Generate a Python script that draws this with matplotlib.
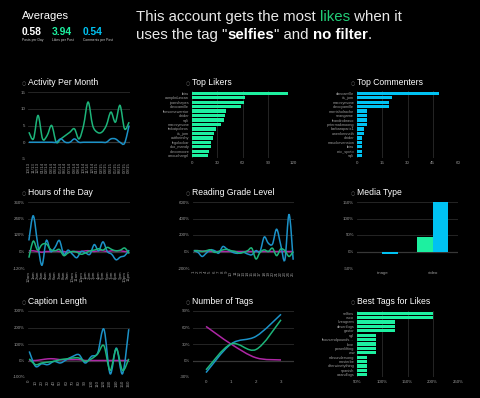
import matplotlib
matplotlib.use('Agg')
import matplotlib.pyplot as plt
import numpy as np
from matplotlib.path import Path
from matplotlib.patches import PathPatch

plt.rcParams['font.family'] = ['Liberation Sans', 'DejaVu Sans']

# ---- data ----
months = ['10/13', '11/13', '12/13', '01/14', '02/14', '03/14', '04/14', '05/14',
          '06/14', '07/14', '08/14', '09/14', '10/14', '11/14', '12/14', '01/15',
          '02/15', '03/15', '04/15', '05/15', '06/15', '07/15', '08/15']
month_likes = [3, 1, 8, 1, 2, 5, 0, 1, 2, 3, 4, 1, 5, 12, 5, 3, 3, 5, 9, 6, 11, 4, 6]
month_comments = [0, 0, 0, 0, 0, 0, 0, 1, 0, 0, 1, 0, 0, 0, 0, 0, 0, 0, 1, 1, 0, -0.3, 5]

likers = ['lbiru', 'campbduncan', 'joanshapes', 'alexcamille', 'thesomewarrior', 'alrider',
          'sqli', 'marcsymone', 'tinkatpobros', 'its_jom', 'cuttheirshy', 'legolockar',
          'ako_mandy', 'alexxmoore', 'amouchargrl']
liker_counts = [114, 63, 62, 58, 40, 39, 38, 34, 28, 26, 25, 23, 22, 20, 19]

commenters = ['dancamille', 'its_jom', 'marcsymone', 'alexcyamille', 'morrisholroche',
              'seangame', 'leandrobravo', 'petermakmoong', 'barbaraparis1', 'owenkenneth',
              'alrider', 'mauckevenston', 'lbiru', 'eric_spoto', 'sqli']
commenter_counts = [49, 21, 19, 19, 6, 6, 6, 6, 4, 4, 3, 3, 3, 3, 3]

hours = ['12am'] + ['%dam' % h for h in range(1, 12)] + ['12pm'] + ['%dpm' % h for h in range(1, 12)]
hour_comments = [80, 260, 60, -100, 80, 0, 30, 80, -20, 10, -20, -45,
                 0, -10, -20, 50, 5, 70, 0, -20, -60, -40, -30, 10]
hour_likes = [-45, 75, 10, 50, 55, 15, 5, 15, -30, -10, 0, -5,
              -20, -10, 5, 10, 20, 10, 30, 15, 5, 10, 25, -15]
hour_posts = [5, 5, 0, -5, 0, 0, 5, 0, 0, -5, 0, 0,
              0, 5, 5, 0, 5, 5, 0, 5, 5, 5, 0, 0]

grades = [str(g) for g in range(1, 26)]
grade_comments = [10, -10, -60, -20, 20, 10, -20, 60, 30, 0, -20, -20, -10, -30, -40,
                  10, 0, 175, 100, 90, 270, 80, -100, 450, -100]
grade_likes = [10, 10, 0, 10, 20, -10, 0, 20, 25, 10, 0, -20, -10, 10, 40,
               -90, -10, 20, 0, 40, -50, 30, 10, -60, 0]
grade_posts = [10, 10, 5, 5, 0, 0, 0, 0, 0, 0, 0, 0, 0, 0, 0,
               0, 0, 0, 0, 0, 0, 0, 0, 0, 0]

media = ['image', 'video']
media_likes = [-2, 44]
media_comments = [-7, 150]

caption_len = [str(c) for c in range(0, 170, 10)]
caption_comments = [55, -35, -20, -25, -5, -15, 5, 25, 35, -15, 25, 45, 190, -80, 75, -80, 190]
caption_likes = [10, -25, -15, -10, -5, 5, 10, 15, 15, -5, 10, 40, 90, -60, 70, -60, 10]
caption_posts = [0, 0, 5, 10, 10, 5, 5, 5, 5, 0, 0, 0, 0, 0, 0, 0, 0]

ntags = ['0', '1', '2', '3']
ntags_comments = [-22, 30, 44, 84]
ntags_likes = [-17, 30, 20, 74]
ntags_posts = [62, 30, 5, 1]

tags = ['selfies', 'vsco', 'liveagram', 'desertlogs', 'gastor', 'ngl', 'thousandpounds...',
        'love', 'powerlifting', 'ww', 'mbsundersong', 'mosterbe', 'afterwinetything',
        'spanish', 'aaandlogs']
tag_lift = [200, 200, 125, 125, 125, 88, 88, 88, 88, 88, 69, 69, 69, 69, 69]

# ---- style ----
GREEN = '#1df0a0'
BLUE = '#00c2f2'
LGREEN = '#1db47a'
LBLUE = '#1c92c8'
MAGENTA = '#ae27a5'
GRID = '#2b2b2b'
ZERO = '#777777'
TICK = '#9a9a9a'

W, H = 480, 398
fig = plt.figure(figsize=(4.8, 3.98), dpi=100, facecolor='black')


def box(x0, y0, x1, y1):
    return fig.add_axes([x0 / W, 1 - y1 / H, (x1 - x0) / W, (y1 - y0) / H])


def base(ax):
    ax.set_facecolor('black')
    for s in ax.spines.values():
        s.set_visible(False)
    ax.tick_params(colors=TICK, labelsize=3.2, length=0, pad=2)


def spline(ax, y, color):
    x = np.arange(len(y), dtype=float)
    y = np.asarray(y, dtype=float)
    px = np.concatenate([[x[0]], x, [x[-1]]])
    py = np.concatenate([[y[0]], y, [y[-1]]])
    verts = [(x[0], y[0])]
    codes = [Path.MOVETO]
    for i in range(len(x) - 1):
        c1 = (x[i] + (px[i + 2] - px[i]) / 6, y[i] + (py[i + 2] - py[i]) / 6)
        c2 = (x[i + 1] - (px[i + 3] - px[i + 1]) / 6, y[i + 1] - (py[i + 3] - py[i + 1]) / 6)
        verts += [c1, c2, (x[i + 1], y[i + 1])]
        codes += [Path.CURVE4] * 3
    ax.add_patch(PathPatch(Path(verts, codes), fill=False, edgecolor=color, lw=1.1))


def line_chart(ax, labels, series, yticks, pct=True, rot=90, pad=0.2):
    base(ax)
    n = len(labels)
    for y, c in series:
        spline(ax, y, c)
    ax.set_xlim(-pad, n - 1 + pad)
    ax.set_ylim(yticks[0], yticks[-1])
    ax.set_yticks(yticks)
    ax.set_yticklabels([('%d%%' % t) if pct else str(t) for t in yticks])
    ax.set_xticks(range(n))
    ax.set_xticklabels(labels, rotation=rot)
    ax.grid(axis='y', color=GRID, lw=0.6)
    ax.set_axisbelow(True)
    ax.axhline(0, color=ZERO, lw=0.8, zorder=0.5)


def bar_chart(ax, names, vals, color, xlim, xticks, pct=False):
    base(ax)
    pos = np.arange(len(names))
    ax.barh(pos, vals, height=0.72, color=color)
    ax.set_yticks(pos)
    ax.set_yticklabels(names, fontsize=2.8)
    ax.set_ylim(len(names) - 0.5, -0.5)
    ax.set_xlim(*xlim)
    ax.set_xticks(xticks)
    ax.set_xticklabels([('%d%%' % t) if pct else str(t) for t in xticks])
    ax.grid(axis='x', color=GRID, lw=0.6)
    ax.set_axisbelow(True)


def title(x, y, s):
    fig.text((x - 6) / W, 1 - y / H, '\u25cb', color='#666666', fontsize=3.6,
             va='baseline', family='DejaVu Sans')
    fig.text(x / W, 1 - y / H, s, color='white', fontsize=6.2, va='baseline')


# ---- header ----
fig.text(22 / W, 1 - 19 / H, 'Averages', color='white', fontsize=8, va='baseline')
for x, v, lab, c in [(22, '0.58', 'Posts per Day', 'white'),
                     (52, '3.94', 'Likes per Post', GREEN),
                     (83, '0.54', 'Comments per Post', BLUE)]:
    fig.text(x / W, 1 - 35 / H, v, color=c, fontsize=7.4, fontweight='bold', va='baseline')
    fig.text(x / W, 1 - 41 / H, lab, color='#cccccc', fontsize=2.4, va='baseline')

renderer = fig.canvas.get_renderer()


def width(s, size, weight):
    t = fig.text(0, 0, '|' + s + '|', fontsize=size, fontweight=weight)
    t2 = fig.text(0, 0, '||', fontsize=size, fontweight=weight)
    w = t.get_window_extent(renderer).width - t2.get_window_extent(renderer).width
    t.remove()
    t2.remove()
    return w


def runs(x, y, parts, size=10.8):
    for s, c, wgt in parts:
        fig.text(x / W, 1 - y / H, s, color=c, fontsize=size, fontweight=wgt, va='baseline')
        x += width(s, size, wgt)


runs(136, 21, [('This account gets the most ', '#e8e8e8', 'normal'),
               ('likes', '#22cc77', 'normal'),
               (' when it', '#e8e8e8', 'normal')])
runs(136, 39, [('uses the tag "', '#e8e8e8', 'normal'),
               ('selfies', 'white', 'bold'),
               ('" and ', '#e8e8e8', 'normal'),
               ('no filter', 'white', 'bold'),
               ('.', '#e8e8e8', 'normal')])

# ---- row 1 ----
title(28, 85, 'Activity Per Month')
ax = box(28, 92, 130, 159)
line_chart(ax, months, [(month_likes, LGREEN), (month_comments, LBLUE)],
           [-5, 0, 5, 10, 15], pct=False)

title(192, 85, 'Top Likers')
ax = box(192, 91, 293, 158)
bar_chart(ax, likers, liker_counts, GREEN, (0, 120), [0, 30, 60, 90, 120])

title(357, 85, 'Top Commenters')
ax = box(357, 91, 458, 158)
bar_chart(ax, commenters, commenter_counts, BLUE, (0, 60), [0, 15, 30, 45, 60])

# ---- row 2 ----
title(28, 195, 'Hours of the Day')
ax = box(28, 202, 130, 268)
line_chart(ax, hours, [(hour_posts, MAGENTA), (hour_comments, LBLUE), (hour_likes, LGREEN)],
           [-120, 0, 120, 240, 360])

title(192, 195, 'Reading Grade Level')
ax = box(193, 202, 294, 268)
line_chart(ax, grades, [(grade_posts, MAGENTA), (grade_comments, LBLUE), (grade_likes, LGREEN)],
           [-200, 0, 200, 400, 600])

title(357, 195, 'Media Type')
ax = box(357, 202, 458, 268)
base(ax)
mx = np.arange(len(media))
ax.bar(mx - 0.155, media_likes, width=0.31, color=GREEN)
ax.bar(mx + 0.155, media_comments, width=0.31, color=BLUE)
ax.set_xlim(-0.5, 1.5)
ax.set_ylim(-50, 150)
ax.set_yticks([-50, 0, 50, 100, 150])
ax.set_yticklabels(['-50%', '0%', '50%', '100%', '150%'])
ax.set_xticks(mx)
ax.set_xticklabels(media)
ax.grid(axis='y', color=GRID, lw=0.6)
ax.set_axisbelow(True)
ax.axhline(0, color=ZERO, lw=0.8, zorder=0.5)

# ---- row 3 ----
title(28, 304, 'Caption Length')
ax = box(28, 311, 130, 377)
line_chart(ax, caption_len, [(caption_posts, MAGENTA), (caption_comments, LBLUE), (caption_likes, LGREEN)],
           [-100, 0, 100, 200, 300])

title(192, 304, 'Number of Tags')
ax = box(193, 311, 294, 377)
line_chart(ax, ntags, [(ntags_posts, MAGENTA), (ntags_comments, LBLUE), (ntags_likes, LGREEN)],
           [-30, 0, 30, 60, 90], rot=0, pad=0.52)

title(357, 304, 'Best Tags for Likes')
ax = box(357, 311, 458, 377)
bar_chart(ax, tags, tag_lift, GREEN, (50, 250), [50, 100, 150, 200, 250], pct=True)

fig.savefig('out.png', dpi=100, facecolor='black')
